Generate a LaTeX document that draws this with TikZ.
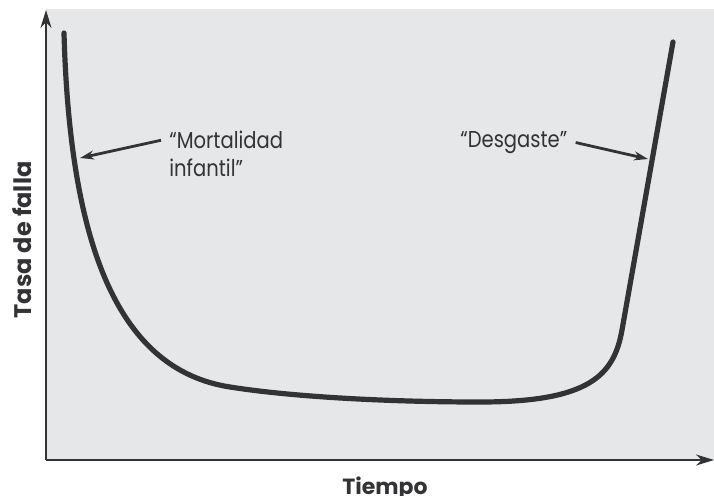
\documentclass[tikz,border=0pt]{standalone}
\usepackage{fontspec}
\setmainfont{Poppins}
\newfontfamily\etiq[FakeStretch=0.85]{Poppins}
\usepackage{xcolor}
\usepackage{tikz}
\usetikzlibrary{arrows.meta}

\definecolor{fondo}{HTML}{E6E7E8}
\definecolor{tinta}{HTML}{333335}

\begin{document}
\begin{tikzpicture}[x=0.5pt, y=-0.5pt,
    eje/.style={draw=tinta, line width=1pt, -{Stealth[length=9pt, width=5.5pt]}},
    curva/.style={draw=tinta, line width=2.6pt, line cap=round},
    flecha/.style={draw=tinta, line width=1.4pt, -{Stealth[length=7pt, width=4.5pt]}},
    etiqueta/.style={text=tinta, font=\etiq\fontsize{11.5}{14}\selectfont, inner sep=0pt, align=left},
    titulo/.style={text=tinta, font=\bfseries\fontsize{11}{13}\selectfont, inner sep=0pt}]
\useasboundingbox (0,0) rectangle (714,495);
\fill[fondo] (46,9) rectangle (714,460);
% ejes
\coordinate (origen) at (46,460);
\coordinate (ytop) at (46,10);
\coordinate (xfin) at (714,460);
\draw[eje] (origen) -- (ytop);
\draw[eje] (origen) -- (xfin);
\node[titulo, anchor=base] (tiempo) at (385,494) {Tiempo};
\node[titulo, font=\bfseries\fontsize{12}{14}\selectfont, rotate=90] (tasa) at (22,240) {Tasa de falla};
% curva de la bañera
\draw[curva] (64,33) .. controls (70,250) and (120,370) .. (230,387)
  .. controls (300,398) and (400,402) .. (480,402)
  .. controls (590,402) and (614,375) .. (622,330) -- (673,42);
% etiquetas
\node[etiqueta, anchor=north west] (mort) at (169,131) {“Mortalidad\\infantil”};
\node[etiqueta, anchor=north west] (desg) at (460,131) {“Desgaste”};
\coordinate (pmort) at (80,158);
\coordinate (pdesg) at (648,159);
\draw[flecha] ([xshift=-4pt, yshift=7pt]mort.west) -- (pmort);
\draw[flecha] ([xshift=4pt]desg.east) -- (pdesg);
\end{tikzpicture}
\end{document}
